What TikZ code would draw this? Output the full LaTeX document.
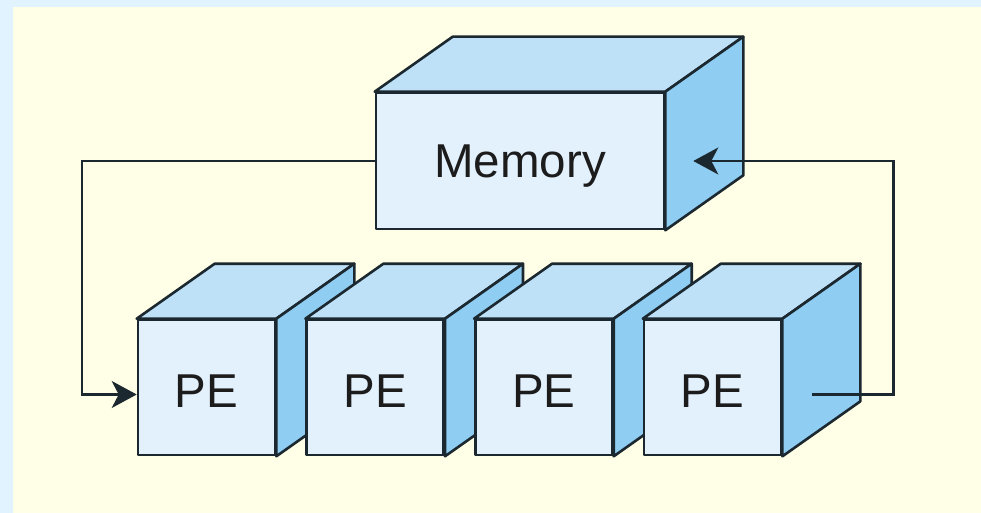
\documentclass[tikz,border=0pt]{standalone}
\usepackage{fontspec}
\setmainfont{Liberation Sans}
\usetikzlibrary{calc,arrows.meta}
\definecolor{outerbg}{HTML}{E0F3FF}
\definecolor{innerbg}{HTML}{FFFFE7}
\definecolor{frontc}{HTML}{E3F1FC}
\definecolor{topc}{HTML}{BEE1F7}
\definecolor{sidec}{HTML}{8FCDF2}
\definecolor{edgec}{HTML}{1C2830}
\definecolor{txtc}{HTML}{1C1C1C}
\newcommand{\boxtopside}[1]{%
  \draw[face,fill=topc] (#1.north west) -- ++(78,-55) -- ($(#1.north east)+(78,-55)$) -- (#1.north east) -- cycle;
  \draw[face,fill=sidec] (#1.north east) -- ++(78,-55) -- ($(#1.south east)+(78,-55)$) -- (#1.south east) -- cycle;
}
\begin{document}
\begin{tikzpicture}[x=1pt,y=-1pt,
  front/.style={draw=edgec,fill=frontc,line width=2.6pt,line join=round,rectangle,inner sep=0pt,font=\fontsize{47.5}{56}\selectfont,text=txtc,text depth=0pt},
  pebox/.style={front,minimum width=137pt,minimum height=135pt,text height=40pt},
  face/.style={draw=edgec,line width=2.6pt,line join=round},
  conn/.style={draw=edgec,line width=2.2pt},
  tip/.style={-{Stealth[length=25pt,width=27pt,inset=7pt]}}
]
\useasboundingbox (0,0) rectangle (981,513);
\fill[outerbg] (0,0) rectangle (981,513);
\fill[innerbg] (13,7) rectangle (981,513);

\node[front,minimum width=288pt,minimum height=136pt,text height=34pt] (mem) at (520,161) {Memory};
\boxtopside{mem}

\node[pebox] (pe1) at (206.5,387.5) {PE};
\boxtopside{pe1}
\node[pebox] (pe2) at (375.2,387.5) {PE};
\boxtopside{pe2}
\node[pebox] (pe3) at (543.9,387.5) {PE};
\boxtopside{pe3}
\node[pebox] (pe4) at (712.6,387.5) {PE};
\boxtopside{pe4}

\draw[conn,tip] (mem.west) -| ($(pe1.west)+(-55,7)$) -- ($(pe1.west)+(0,7)$);
\draw[conn,tip] ($(pe4.east)+(30,7)$) -- ++(81,0) |- ($(mem.east)+(28,0)$);
\end{tikzpicture}
\end{document}
